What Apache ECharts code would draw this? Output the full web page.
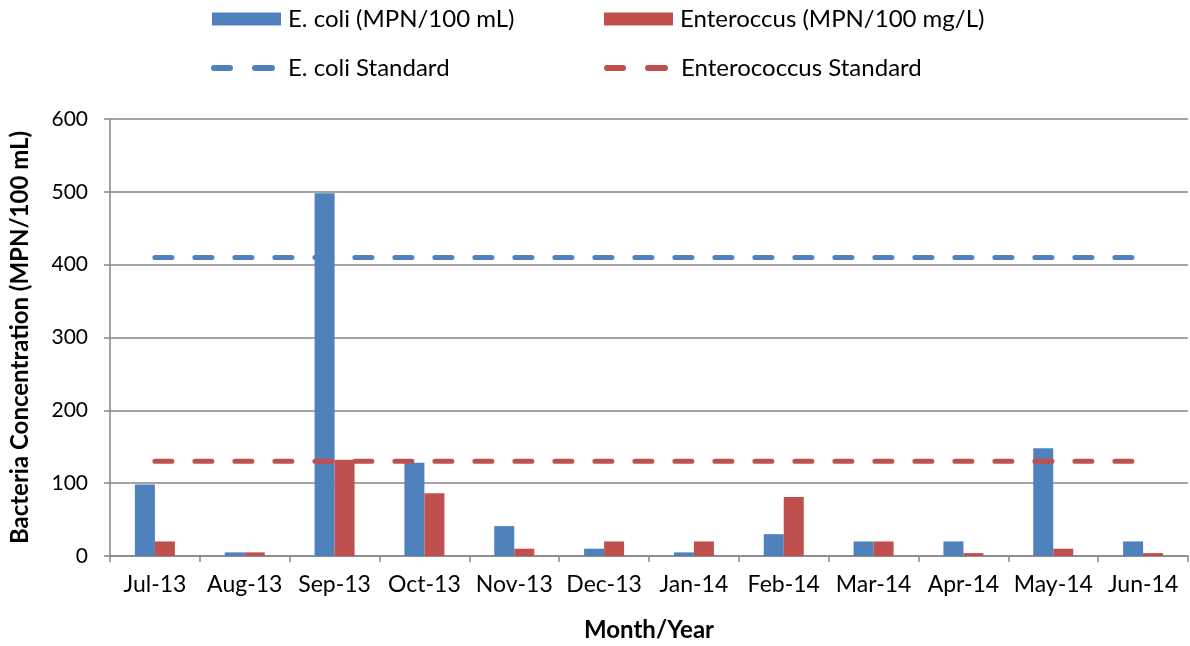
<!DOCTYPE html>
<html>
<head>
<meta charset="utf-8">
<script src="https://cdn.jsdelivr.net/npm/echarts@6/dist/echarts.min.js"></script>
<style>html,body{margin:0;padding:0;background:#fff;}#c{width:1190px;height:646px;}</style>
</head>
<body>
<div id="c"></div>
<script>
const months = ['Jul-13','Aug-13','Sep-13','Oct-13','Nov-13','Dec-13','Jan-14','Feb-14','Mar-14','Apr-14','May-14','Jun-14'];
const ecoli = [98, 5, 498, 128, 41, 10, 5, 30, 20, 20, 148, 20];
const enterococcus = [20, 5, 132, 86, 10, 20, 20, 81, 20, 4, 10, 4];
const ecoliStandard = [410, 410, 410, 410, 410, 410, 410, 410, 410, 410, 410, 410];
const enteroStandard = [130, 130, 130, 130, 130, 130, 130, 130, 130, 130, 130, 130];
const yTicks = [0, 100, 200, 300, 400, 500, 600];

const BLUE = '#4F81BD', RED = '#C0504D', GRAY = '#868686';
const FONT = 'Lato, "Open Sans", sans-serif';
const names = ['E. coli (MPN/100 mL)', 'Enteroccus (MPN/100 mg/L)', 'E. coli Standard', 'Enterococcus Standard'];
const DASH_ICON = 'path://M3,0 L19,0 A3,3 0 0 1 19,6 L3,6 A3,3 0 0 1 3,0 Z M44,0 L61,0 A3,3 0 0 1 61,6 L44,6 A3,3 0 0 1 44,0 Z';

function lg(name, left, top, w, h, icon, pad) {
  return {
    data: [{name: name, icon: icon}], left: left, top: top, itemWidth: w, itemHeight: h, padding: 0,
    textStyle: {fontFamily: FONT, fontSize: 24, color: '#000', padding: [0, 0, 0, pad]}, selectedMode: false
  };
}

const chart = echarts.init(document.getElementById('c'));
chart.setOption({
  animation: false,
  textStyle: {fontFamily: FONT},
  legend: [
    lg(names[0], 212, 7, 69, 13, 'rect', 2),
    lg(names[1], 604, 7, 69, 13, 'rect', 2),
    lg(names[2], 211, 56, 64, 6, DASH_ICON, 8),
    lg(names[3], 604, 56, 64, 6, DASH_ICON, 8)
  ],
  grid: {left: 110, right: 2, top: 119, bottom: 90, containLabel: false, outerBoundsMode: 'none'},
  xAxis: {
    type: 'category', data: months, boundaryGap: true,
    name: 'Month/Year', nameLocation: 'middle', nameGap: 62,
    nameTextStyle: {fontFamily: FONT, fontSize: 24, fontWeight: 'bold', color: '#000'},
    axisLine: {lineStyle: {color: GRAY, width: 1.5}},
    axisTick: {show: true, alignWithLabel: false, length: 6, lineStyle: {color: GRAY, width: 1.5}},
    axisLabel: {fontFamily: FONT, fontSize: 23, color: '#000', margin: 17, interval: 0, hideOverlap: false}
  },
  yAxis: {
    type: 'value', min: yTicks[0], max: yTicks[yTicks.length - 1], interval: 100,
    name: 'Bacteria Concentration (MPN/100 mL)', nameLocation: 'middle', nameGap: 78,
    nameTextStyle: {fontFamily: FONT, fontSize: 24, fontWeight: 'bold', color: '#000'},
    axisLine: {show: true, lineStyle: {color: GRAY, width: 1.5}},
    axisTick: {show: true, length: 6, lineStyle: {color: GRAY, width: 1.5}},
    axisLabel: {fontFamily: FONT, fontSize: 21, color: '#000', margin: 22},
    splitLine: {show: true, lineStyle: {color: GRAY, width: 1.5}}
  },
  series: [
    {name: names[0], type: 'bar', data: ecoli, barWidth: 20, barGap: '0%', itemStyle: {color: BLUE}, z: 2},
    {name: names[1], type: 'bar', data: enterococcus, barWidth: 20, barGap: '0%', itemStyle: {color: RED}, z: 2},
    {name: names[2], type: 'line', data: ecoliStandard, symbol: 'none', z: 5,
     lineStyle: {color: BLUE, width: 5, type: [17, 23], cap: 'round'}, itemStyle: {color: BLUE}},
    {name: names[3], type: 'line', data: enteroStandard, symbol: 'none', z: 5,
     lineStyle: {color: RED, width: 5, type: [17, 23], cap: 'round'}, itemStyle: {color: RED}}
  ]
});
</script>
</body>
</html>
